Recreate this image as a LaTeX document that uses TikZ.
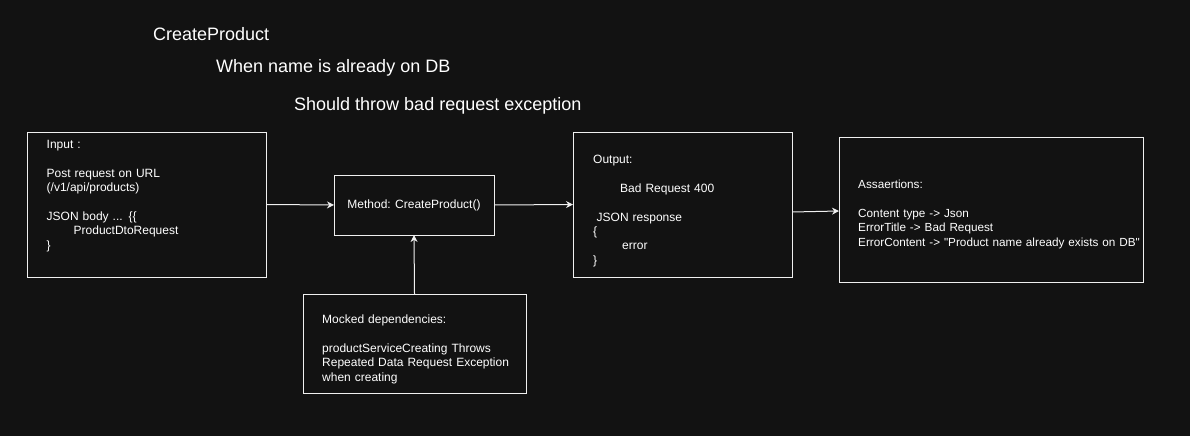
\documentclass[tikz,border=0pt]{standalone}
\usepackage{fontspec}
\setmainfont{Liberation Sans}
\newfontfamily\plainquote{Liberation Sans}
\usepackage{tikz}
\usetikzlibrary{arrows.meta}
\definecolor{bgdark}{RGB}{18,18,18}
\definecolor{edgewhite}{RGB}{240,240,240}
\newcommand{\dq}{{\plainquote\symbol{34}}}

\begin{document}
\begin{tikzpicture}[x=1pt,y=-1pt,
  box/.style={draw=edgewhite,line width=1pt,inner sep=0pt,outer sep=0pt,text=white,font=\fontsize{12}{14.4}\selectfont},
  txt/.style={anchor=north west,inner sep=0pt,align=left,text width=300pt,text=white,font=\fontsize{12}{14.4}\selectfont},
  ttl/.style={anchor=base west,inner sep=0pt,text=white,font=\fontsize{18}{21.6}\selectfont},
  arr/.style={draw=edgewhite,line width=1pt,-{Stealth[length=7pt,width=7pt]}}]
\fill[bgdark] (0,0) rectangle (1190,436);
% titles
\node[ttl] (title) at (153,40.5) {CreateProduct};
\node[ttl] (when) at (216,72.5) {When name is already on DB};
\node[ttl] (should) at (294,110.5) {Should throw bad request exception};
% boxes
\node[box,minimum width=239,minimum height=145] (inbox) at (146.5,204.5) {};
\node[box,minimum width=160,minimum height=60] (method) at (414,205) {Method: CreateProduct()};
\node[box,minimum width=219,minimum height=145] (outbox) at (682.5,204.5) {};
\node[box,minimum width=304,minimum height=145] (asrt) at (991,209.5) {};
\node[box,minimum width=223,minimum height=99] (mock) at (414.5,343.5) {};
% box texts
\node[txt] (intxt) at (46.5,138.2) {\strut Input :\\ \strut\\ Post request on URL\\ (/v1/api/products)\\ \strut\\ JSON body ... \{\{\\ \hspace*{27pt}ProductDtoRequest\\ \}};
\node[txt] (outtxt) at (593,153.2) {\strut Output:\\ \strut\\ \hspace*{27pt}Bad Request 400\\ \strut\\ \hspace*{3.5pt}JSON response\\ \{\\ \hspace*{29pt}error\\ \}};
\node[txt,font=\fontsize{11.75}{14.4}\selectfont] (asrttxt) at (858,178.2) {\strut Assaertions:\\ \strut\\ Content type -> Json\\ ErrorTitle -> Bad Request\\ ErrorContent -> \dq Product name already exists on DB\dq};
\node[txt] (mocktxt) at (322,313.2) {\strut Mocked dependencies:\\ \strut\\ productServiceCreating Throws\\ Repeated Data Request Exception\\ when creating};
% arrows
\draw[arr] (inbox.east) -- (method.west);
\draw[arr] (method.east) -- (outbox.west);
\draw[arr] ([yshift=-7.5pt]outbox.east) -- ([yshift=-1.5pt]asrt.west);
\draw[arr] (mock.north) -- (method.south);
\end{tikzpicture}
\end{document}
